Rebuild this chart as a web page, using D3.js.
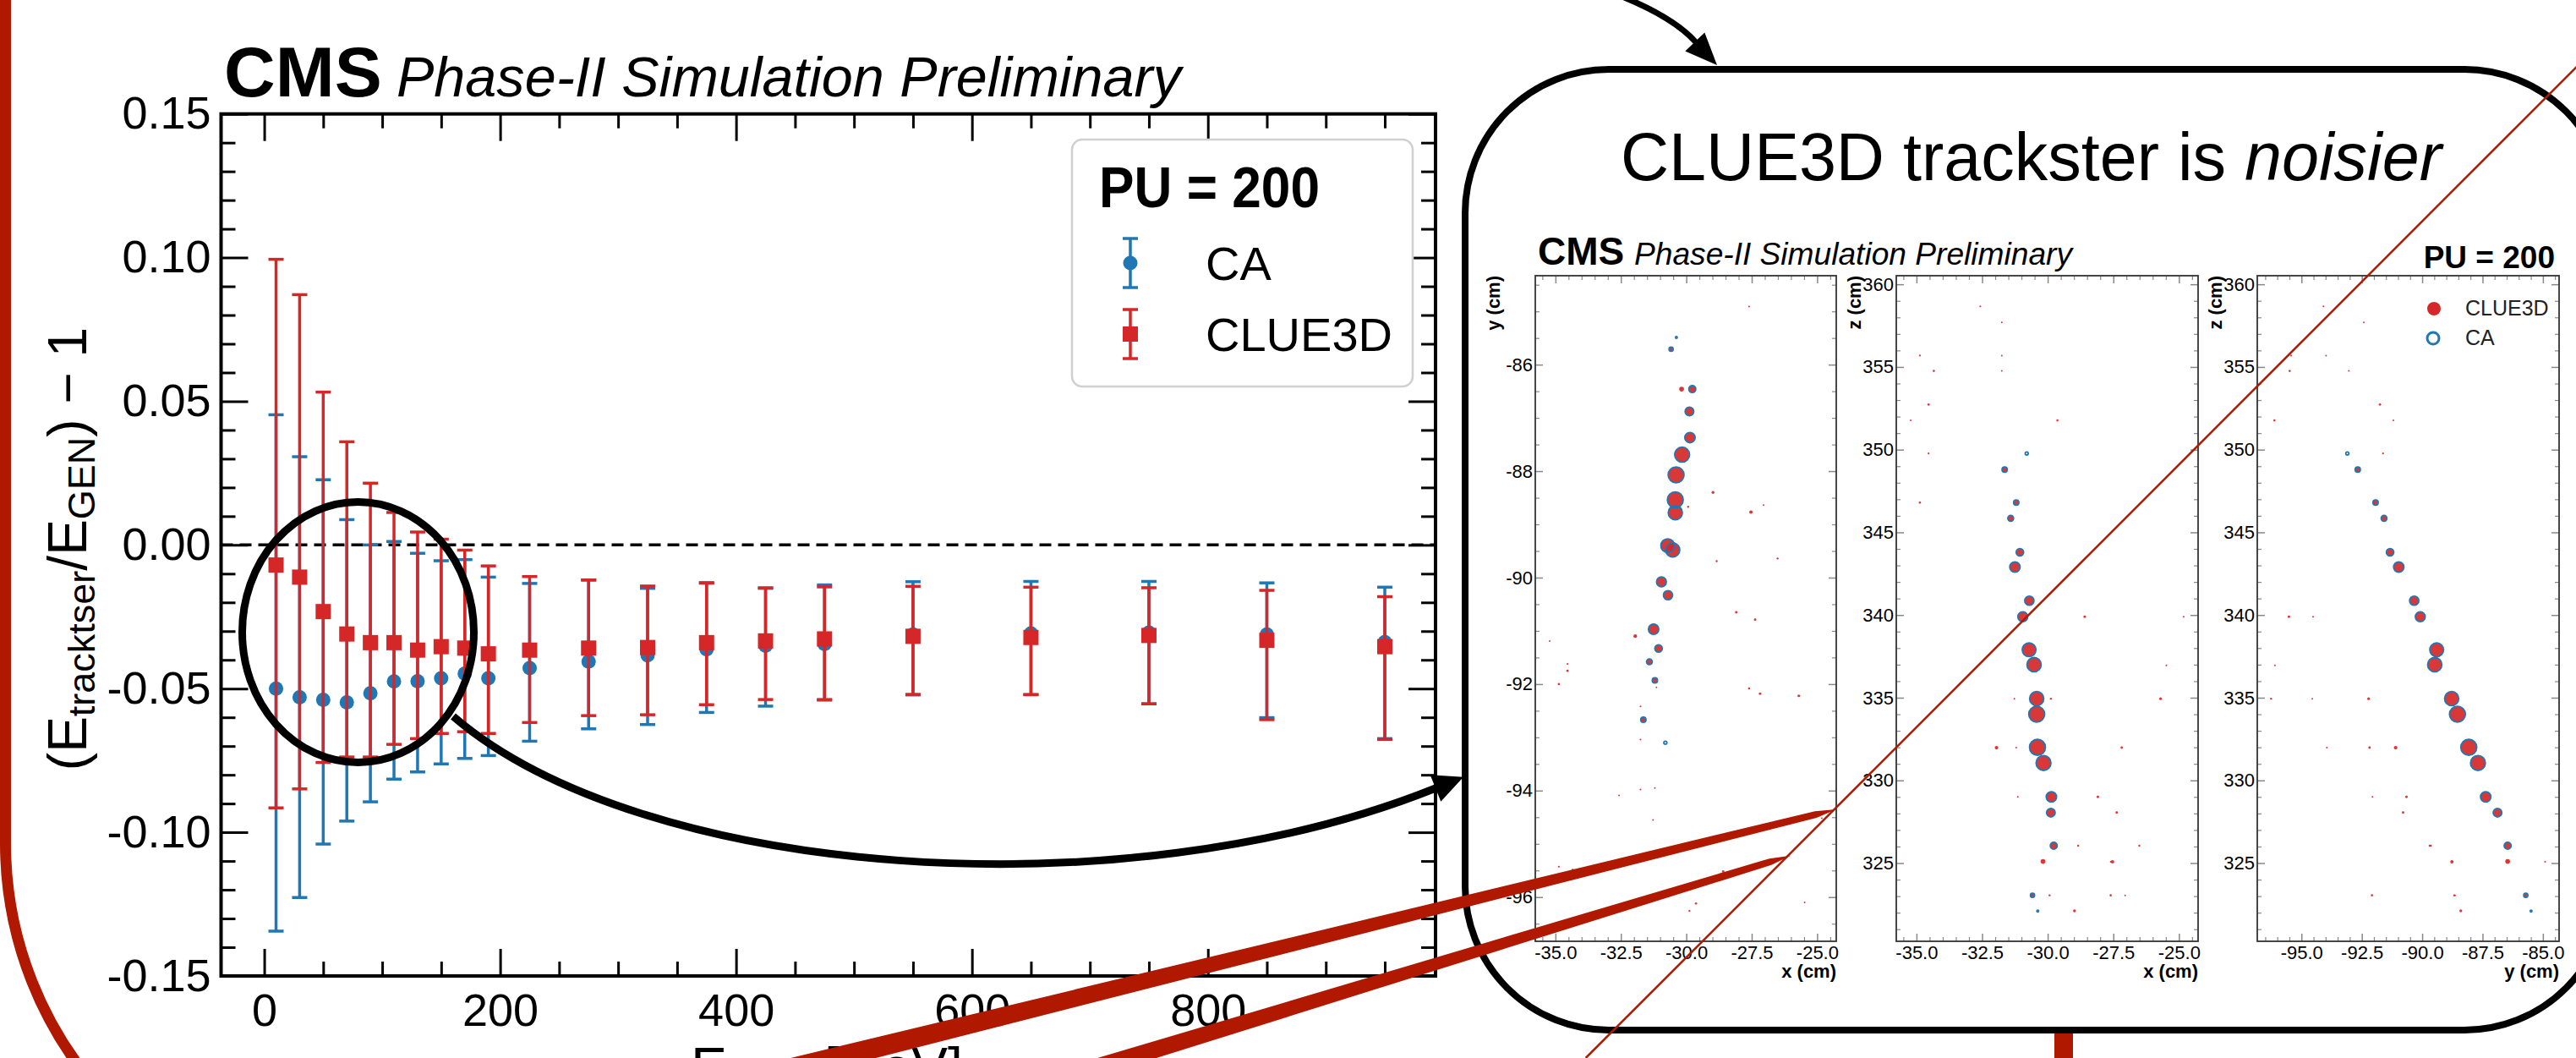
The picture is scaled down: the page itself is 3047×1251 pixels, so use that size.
<!DOCTYPE html>
<meta charset="utf-8">
<style>
    html, body { margin:0; padding:0; overflow:hidden; background:#fff }
    text { font-family: "Liberation Sans", Arial, Helvetica, sans-serif; }
</style>
<svg id="mainsvg" width="3047" height="1251"></svg>
<script src="https://cdn.jsdelivr.net/npm/d3@7"></script>
<script>

/*  -- response vs energy -- */

var energies = [10, 30, 50, 70, 90, 110, 130, 150, 170, 190, 225, 275, 325, 375, 425, 475, 550, 650, 750, 850, 950];

var caMean  = [-0.0500, -0.0530, -0.0539, -0.0548, -0.0516, -0.0475, -0.0474, -0.0464, -0.0448, -0.0464, -0.0429,
               -0.0406, -0.0384, -0.0363, -0.0351, -0.0345, -0.0312, -0.0308, -0.0305, -0.0312, -0.0338];
var caUp    = [ 0.0453,  0.0307,  0.0227,  0.0088,  0.0000,  0.0012, -0.0029, -0.0055, -0.0051, -0.0112, -0.0134,
               -0.0122, -0.0151, -0.0131, -0.0151, -0.0139, -0.0128, -0.0127, -0.0127, -0.0132, -0.0147];
var caDown  = [-0.1344, -0.1227, -0.1041, -0.0961, -0.0894, -0.0815, -0.0790, -0.0762, -0.0743, -0.0733, -0.0683,
               -0.0640, -0.0625, -0.0583, -0.0561, -0.0540, -0.0522, -0.0521, -0.0553, -0.0601, -0.0674];

var clueMean = [-0.0070, -0.0112, -0.0232, -0.0310, -0.0340, -0.0340, -0.0366, -0.0354, -0.0359, -0.0379, -0.0366,
                -0.0359, -0.0357, -0.0340, -0.0334, -0.0327, -0.0318, -0.0322, -0.0315, -0.0332, -0.0354];
var clueUp   = [ 0.0994,  0.0871,  0.0532,  0.0359,  0.0215,  0.0113,  0.0045,  0.0020, -0.0018, -0.0073, -0.0110,
                -0.0122, -0.0143, -0.0133, -0.0149, -0.0146, -0.0144, -0.0147, -0.0149, -0.0158, -0.0180];
var clueDown = [-0.0915, -0.0849, -0.0757, -0.0738, -0.0738, -0.0694, -0.0674, -0.0656, -0.0650, -0.0656, -0.0618,
                -0.0594, -0.0591, -0.0556, -0.0538, -0.0538, -0.0520, -0.0521, -0.0553, -0.0608, -0.0677];

var xTicks = [0, 200, 400, 600, 800];
var yTicks = [-0.15, -0.10, -0.05, 0.00, 0.05, 0.10, 0.15];

/*  -- trackster hits (cm), energy in arbitrary units, and which trackster owns them -- */

var hitX = [-30.80, -31.64, -31.20, -31.41, -31.06, -31.25, -30.70, -30.95, -30.71, -30.52, -30.42, -30.42, -30.39, -30.16,
            -29.86, -29.88, -29.77, -30.18, -30.58, -30.38,
            -32.57, -31.75, -34.87, -31.75, -34.34, -31.75, -34.54, -35.22, -29.63, -34.54, -34.87, -28.59, -24.82,
            -25.48, -31.27, -29.88, -25.70, -31.95, -31.20, -27.18, -31.14, -28.09, -27.37, -28.84, -26.51, -27.53,
            -27.60, -29.93, -27.60, -27.05, -28.98];
var hitY = [-93.10, -92.67, -91.93, -91.58, -91.33, -90.97, -90.33, -90.08, -89.40, -89.48, -88.78, -88.54, -88.07, -87.69,
            -87.37, -86.88, -86.46, -86.46, -85.71, -85.49,
            -94.09, -92.42, -95.43, -93.98, -95.49, -93.04, -91.75, -91.19, -96.12, -91.62, -92.00, -95.52, -94.52,
            -96.10, -94.55, -96.26, -92.22, -91.10, -93.95, -92.18, -92.06, -90.65, -90.79, -89.69, -89.64, -88.77,
            -84.91, -88.67, -92.08, -88.64, -88.40];
var hitZ = [349.77, 348.80, 346.80, 345.85, 343.80, 342.90, 340.87, 339.90, 337.90, 337.00, 334.95, 334.00, 332.00, 331.05,
            329.00, 328.05, 326.05, 325.10, 323.05, 322.10,
            358.66, 357.70, 355.69, 355.69, 354.76, 354.76, 352.73, 351.77, 351.77, 349.77, 346.80, 339.90, 339.90,
            336.95, 334.94, 334.94, 334.94, 331.98, 331.98, 331.98, 329.00, 329.00, 328.06, 326.05, 326.05, 325.08,
            325.08, 323.05, 323.05, 323.05, 322.11];
var hitE = [0.73, 1.6, 1.6, 1.85, 2.8, 4.9, 4.0, 4.5, 8.1, 8.6, 8.6, 10.6, 10.6, 9.4,
            4.9, 3.6, 2.5, 0.8, 1.1, 0.4,
            0.1, 0.1, 0.12, 0.1, 0.17, 0.1, 0.2, 0.1, 0.17, 0.12, 0.17, 0.22, 0.1,
            0.1, 0.1, 0.14, 0.26, 0.45, 0.1, 0.22, 0.1, 0.22, 0.22, 0.14, 0.14, 0.4,
            0.1, 0.14, 0.17, 0.1, 0.29];
var hitOwner = ["ca", "both", "both", "both", "both", "both", "both", "both", "both", "both", "both", "both", "both", "both",
                "both", "both", "both", "clue", "both", "ca"];
while (hitOwner.length < hitX.length) hitOwner.push("clue");


/*  --  */

var svg = d3.select("#mainsvg");
svg.append("rect").attr("width", 3047).attr("height", 1251).attr("fill", "#fff");

var FONT = "Liberation Sans, Arial, Helvetica, sans-serif";
var blue = "#1f77b4", red = "#d62728", slideRed = "#b01800";

function noLabels() { return ""; }

function cleanAxis(g, size, w, col) {
    g.attr("font-family", FONT).attr("font-size", size);
    g.select(".domain").remove();
    g.selectAll("line").attr("stroke", col).attr("stroke-width", w);
    g.selectAll("text").attr("fill", "#000");
}

/*  -- left: response plot -- */

var px0 = 261.5, px1 = 1698, py0 = 134.7, py1 = 1154;
var x = d3.scaleLinear().domain([-36.6, 993]).range([px0, px1]);
var y = d3.scaleLinear().domain([-0.15, 0.15]).range([py1, py0]);

var xMinor = d3.range(50, 1000, 50).filter(function(v) { return v % 200 != 0; });
var yMinor = d3.range(-14, 15).filter(function(k) { return k % 5 != 0; }).map(function(k) { return k / 100; });

var plot = svg.append("g");

plot.append("g").attr("transform", "translate(0," + py1 + ")")
    .call(d3.axisBottom(x).tickValues(xTicks).tickSizeInner(-32).tickSizeOuter(0).tickPadding(21).tickFormat(d3.format("d")))
    .call(cleanAxis, 54, 3, "#000");
plot.append("g").attr("transform", "translate(0," + py1 + ")")
    .call(d3.axisBottom(x).tickValues(xMinor).tickSizeInner(-17).tickSizeOuter(0).tickFormat(noLabels))
    .call(cleanAxis, 54, 3, "#000");
plot.append("g").attr("transform", "translate(0," + py0 + ")")
    .call(d3.axisTop(x).tickValues(xTicks).tickSizeInner(-32).tickSizeOuter(0).tickFormat(noLabels))
    .call(cleanAxis, 54, 3, "#000");
plot.append("g").attr("transform", "translate(0," + py0 + ")")
    .call(d3.axisTop(x).tickValues(xMinor).tickSizeInner(-17).tickSizeOuter(0).tickFormat(noLabels))
    .call(cleanAxis, 54, 3, "#000");

plot.append("g").attr("transform", "translate(" + px0 + ",0)")
    .call(d3.axisLeft(y).tickValues(yTicks).tickSizeInner(-32).tickSizeOuter(0).tickPadding(12)
            .tickFormat(function(d) { return d.toFixed(2); }))
    .call(cleanAxis, 54, 3, "#000");
plot.append("g").attr("transform", "translate(" + px0 + ",0)")
    .call(d3.axisLeft(y).tickValues(yMinor).tickSizeInner(-17).tickSizeOuter(0).tickFormat(noLabels))
    .call(cleanAxis, 54, 3, "#000");
plot.append("g").attr("transform", "translate(" + px1 + ",0)")
    .call(d3.axisRight(y).tickValues(yTicks).tickSizeInner(-32).tickSizeOuter(0).tickFormat(noLabels))
    .call(cleanAxis, 54, 3, "#000");
plot.append("g").attr("transform", "translate(" + px1 + ",0)")
    .call(d3.axisRight(y).tickValues(yMinor).tickSizeInner(-17).tickSizeOuter(0).tickFormat(noLabels))
    .call(cleanAxis, 54, 3, "#000");

plot.append("rect")
    .attr("x", px0).attr("y", py0).attr("width", px1 - px0).attr("height", py1 - py0)
    .attr("fill", "none").attr("stroke", "#000").attr("stroke-width", 4);

plot.append("line")
    .attr("x1", px0).attr("x2", px1).attr("y1", y(0)).attr("y2", y(0))
    .attr("stroke", "#000").attr("stroke-width", 3.5).attr("stroke-dasharray", "14,8");

function drawSeries(mean, up, down, col, shape) {
    var g = plot.append("g");
    var pt = g.selectAll("g").data(energies).enter().append("g");
    pt.append("line")
        .attr("x1", function(d) { return x(d); }).attr("x2", function(d) { return x(d); })
        .attr("y1", function(d, i) { return y(up[i]); }).attr("y2", function(d, i) { return y(down[i]); })
        .attr("stroke", col).attr("stroke-width", 3.5);
    [up, down].forEach(function(arr) {
        pt.append("line")
            .attr("x1", function(d) { return x(d) - 9; }).attr("x2", function(d) { return x(d) + 9; })
            .attr("y1", function(d, i) { return y(arr[i]); }).attr("y2", function(d, i) { return y(arr[i]); })
            .attr("stroke", col).attr("stroke-width", 3.5);
    });
    if (shape == "circle") {
        pt.append("circle")
            .attr("cx", function(d) { return x(d); }).attr("cy", function(d, i) { return y(mean[i]); })
            .attr("r", 8.5).attr("fill", col);
    } else {
        pt.append("rect")
            .attr("x", function(d) { return x(d) - 9; }).attr("y", function(d, i) { return y(mean[i]) - 9; })
            .attr("width", 18).attr("height", 18).attr("fill", col);
    }
}
drawSeries(caMean, caUp, caDown, blue, "circle");
drawSeries(clueMean, clueUp, clueDown, red, "square");

// legend
var leg = plot.append("g");
leg.append("rect").attr("x", 1268).attr("y", 165).attr("width", 403).attr("height", 292).attr("rx", 12)
    .attr("fill", "#fff").attr("stroke", "#d0d0d0").attr("stroke-width", 2.5);
leg.append("text").attr("x", 1300).attr("y", 245).attr("font-size", 68).attr("font-weight", "bold")
    .attr("textLength", 261).attr("lengthAdjust", "spacingAndGlyphs").text("PU = 200");
[{label: "CA", col: blue, shape: "circle", cy: 311}, {label: "CLUE3D", col: red, shape: "square", cy: 395}]
.forEach(function(item) {
    var cx = 1337;
    leg.append("line").attr("x1", cx).attr("x2", cx).attr("y1", item.cy - 29).attr("y2", item.cy + 29)
        .attr("stroke", item.col).attr("stroke-width", 3.5);
    [-29, 29].forEach(function(o) {
        leg.append("line").attr("x1", cx - 9).attr("x2", cx + 9).attr("y1", item.cy + o).attr("y2", item.cy + o)
            .attr("stroke", item.col).attr("stroke-width", 3.5);
    });
    if (item.shape == "circle") leg.append("circle").attr("cx", cx).attr("cy", item.cy).attr("r", 8.5).attr("fill", item.col);
    else leg.append("rect").attr("x", cx - 9).attr("y", item.cy - 9).attr("width", 18).attr("height", 18).attr("fill", item.col);
    leg.append("text").attr("x", 1426).attr("y", item.cy + 20).attr("font-size", 56).text(item.label);
});

// title and axis labels
var title = svg.append("text").attr("x", 265).attr("y", 114);
title.append("tspan").attr("font-size", 84).attr("font-weight", "bold").text("CMS");
svg.append("text").attr("x", 469).attr("y", 114).attr("font-size", 66).attr("font-style", "italic")
    .attr("textLength", 928).attr("lengthAdjust", "spacingAndGlyphs").text("Phase-II Simulation Preliminary");

var ylab = svg.append("text").attr("transform", "translate(102,649) rotate(-90)")
    .attr("text-anchor", "middle").attr("font-size", 64);
ylab.append("tspan").text("(E");
ylab.append("tspan").attr("font-size", 45).attr("dy", 10).text("tracktser");
ylab.append("tspan").attr("dy", -10).text("/E");
ylab.append("tspan").attr("font-size", 45).attr("dy", 10).text("GEN");
ylab.append("tspan").attr("dy", -10).text(") \u2212 1");

var xlab = svg.append("text").attr("x", 978).attr("y", 1284).attr("text-anchor", "middle").attr("font-size", 64);
xlab.append("tspan").text("E");
xlab.append("tspan").attr("font-size", 45).attr("dy", 10).text("GEN");
xlab.append("tspan").attr("dy", -10).text(" [GeV]");

// annotation ellipse and arrow
svg.append("ellipse").attr("cx", 423.5).attr("cy", 747.5).attr("rx", 137).attr("ry", 154)
    .attr("fill", "none").attr("stroke", "#000").attr("stroke-width", 9);
svg.append("path").attr("d", "M536,847 C760,1040 1330,1080 1698,932")
    .attr("fill", "none").attr("stroke", "#000").attr("stroke-width", 9);
svg.append("path").attr("d", "M1731,918.7 L1704.3,947.8 L1691.7,916.2 Z").attr("fill", "#000");


/*  -- right: the event display -- */

var box = svg.append("g");

box.append("rect").attr("x", 2430).attr("y", 1215).attr("width", 22).attr("height", 40).attr("fill", slideRed);
box.append("rect").attr("x", 1733).attr("y", 82).attr("width", 1352).attr("height", 1136).attr("rx", 170)
    .attr("fill", "#fff").attr("stroke", "#000").attr("stroke-width", 8);

svg.append("path").attr("d", "M1890,-15 Q1975,15 2006,50").attr("fill", "none").attr("stroke", "#000").attr("stroke-width", 7);
svg.append("path").attr("d", "M2031,77 L1993.3,60.6 L2016.3,38.6 Z").attr("fill", "#000");

var head = box.append("text").attr("x", 1917).attr("y", 213).attr("font-size", 80)
    .attr("font-family", "Lato, 'Open Sans', sans-serif").attr("font-weight", 300)
    .attr("textLength", 971).attr("lengthAdjust", "spacingAndGlyphs");
head.append("tspan").text("CLUE3D trackster is ");
head.append("tspan").attr("font-style", "italic").text("noisier");

box.append("text").attr("x", 1819).attr("y", 313).attr("font-size", 46).attr("font-weight", "bold").text("CMS");
box.append("text").attr("x", 1933).attr("y", 313).attr("font-size", 37).attr("font-style", "italic")
    .attr("textLength", 518).attr("lengthAdjust", "spacingAndGlyphs").text("Phase-II Simulation Preliminary");
box.append("text").attr("x", 3022).attr("y", 317).attr("font-size", 37).attr("font-weight", "bold")
    .attr("text-anchor", "end").text("PU = 200");

var xDom = [-35.77, -24.27], yDom = [-96.83, -84.33], zDom = [320.27, 360.52];
var pTop = 326, pBot = 1113;

function ticksBetween(dom, step, major) {
    return d3.range(Math.ceil(dom[0] / step), Math.floor(dom[1] / step) + 1)
        .map(function(k) { return +(k * step).toFixed(3); })
        .filter(function(v) { return major.indexOf(v) < 0; });
}

var panels = [
    {x0: 1816, x1: 2172, h: hitX, v: hitY, hDom: xDom, vDom: yDom,
     hMajor: [-35, -32.5, -30, -27.5, -25], hStep: 0.5, vMajor: [-96, -94, -92, -90, -88, -86], vStep: 0.5,
     hName: "x (cm)", vName: "y (cm)"},
    {x0: 2243, x1: 2600, h: hitX, v: hitZ, hDom: xDom, vDom: zDom,
     hMajor: [-35, -32.5, -30, -27.5, -25], hStep: 0.5, vMajor: [325, 330, 335, 340, 345, 350, 355, 360], vStep: 1,
     hName: "x (cm)", vName: "z (cm)"},
    {x0: 2670, x1: 3027, h: hitY, v: hitZ, hDom: yDom, vDom: zDom,
     hMajor: [-95, -92.5, -90, -87.5, -85], hStep: 0.5, vMajor: [325, 330, 335, 340, 345, 350, 355, 360], vStep: 1,
     hName: "y (cm)", vName: "z (cm)"}
];

var rScale = d3.scaleSqrt().domain([0, 10]).range([0, 10]);

panels.forEach(function(p) {
    var hs = d3.scaleLinear().domain(p.hDom).range([p.x0, p.x1]);
    var vs = d3.scaleLinear().domain(p.vDom).range([pBot, pTop]);
    var g = box.append("g");
    var hMinor = ticksBetween(p.hDom, p.hStep, p.hMajor);
    var vMinor = ticksBetween(p.vDom, p.vStep, p.vMajor);

    g.append("g").attr("transform", "translate(0," + pBot + ")")
        .call(d3.axisBottom(hs).tickValues(p.hMajor).tickSizeInner(-9).tickSizeOuter(0).tickPadding(5)
                .tickFormat(function(d) { return d.toFixed(1); }))
        .call(cleanAxis, 22, 1.5, "#888");
    g.append("g").attr("transform", "translate(0," + pBot + ")")
        .call(d3.axisBottom(hs).tickValues(hMinor).tickSizeInner(-5).tickSizeOuter(0).tickFormat(noLabels))
        .call(cleanAxis, 22, 1.2, "#888");
    g.append("g").attr("transform", "translate(0," + pTop + ")")
        .call(d3.axisTop(hs).tickValues(p.hMajor).tickSizeInner(-9).tickSizeOuter(0).tickFormat(noLabels))
        .call(cleanAxis, 22, 1.5, "#888");
    g.append("g").attr("transform", "translate(0," + pTop + ")")
        .call(d3.axisTop(hs).tickValues(hMinor).tickSizeInner(-5).tickSizeOuter(0).tickFormat(noLabels))
        .call(cleanAxis, 22, 1.2, "#888");
    g.append("g").attr("transform", "translate(" + p.x0 + ",0)")
        .call(d3.axisLeft(vs).tickValues(p.vMajor).tickSizeInner(-9).tickSizeOuter(0).tickPadding(3)
                .tickFormat(function(d) { return String(d); }))
        .call(cleanAxis, 22, 1.5, "#888");
    g.append("g").attr("transform", "translate(" + p.x0 + ",0)")
        .call(d3.axisLeft(vs).tickValues(vMinor).tickSizeInner(-5).tickSizeOuter(0).tickFormat(noLabels))
        .call(cleanAxis, 22, 1.2, "#888");
    g.append("g").attr("transform", "translate(" + p.x1 + ",0)")
        .call(d3.axisRight(vs).tickValues(p.vMajor).tickSizeInner(-9).tickSizeOuter(0).tickFormat(noLabels))
        .call(cleanAxis, 22, 1.5, "#888");
    g.append("g").attr("transform", "translate(" + p.x1 + ",0)")
        .call(d3.axisRight(vs).tickValues(vMinor).tickSizeInner(-5).tickSizeOuter(0).tickFormat(noLabels))
        .call(cleanAxis, 22, 1.2, "#888");

    g.append("rect").attr("x", p.x0).attr("y", pTop).attr("width", p.x1 - p.x0).attr("height", pBot - pTop)
        .attr("fill", "none").attr("stroke", "#333").attr("stroke-width", 1.8);

    g.append("text").attr("x", p.x1).attr("y", pBot + 43).attr("text-anchor", "end")
        .attr("font-size", 22).attr("font-weight", "bold").text(p.hName);
    g.append("text").attr("transform", "translate(" + (p.x0 - 42) + "," + pTop + ") rotate(-90)")
        .attr("text-anchor", "end").attr("font-size", 22).attr("font-weight", "bold").text(p.vName);

    var idx = d3.range(hitX.length);
    g.selectAll("circle.clue").data(idx.filter(function(i) { return hitOwner[i] != "ca"; }))
        .enter().append("circle").attr("class", "clue")
        .attr("cx", function(i) { return hs(p.h[i]); }).attr("cy", function(i) { return vs(p.v[i]); })
        .attr("r", function(i) { return hitOwner[i] == "both" ? rScale(hitE[i]) - 1 : rScale(hitE[i]); })
        .attr("fill", red).attr("fill-opacity", 0.92);
    g.selectAll("circle.ca").data(idx.filter(function(i) { return hitOwner[i] != "clue"; }))
        .enter().append("circle").attr("class", "ca")
        .attr("cx", function(i) { return hs(p.h[i]); }).attr("cy", function(i) { return vs(p.v[i]); })
        .attr("r", function(i) { return rScale(hitE[i]) - 0.9; })
        .attr("fill", "none").attr("stroke", blue).attr("stroke-width", 1.8);
});

// event display legend
var eleg = box.append("g");
eleg.append("circle").attr("cx", 2879).attr("cy", 365).attr("r", 8).attr("fill", red);
eleg.append("circle").attr("cx", 2878).attr("cy", 400).attr("r", 7).attr("fill", "none").attr("stroke", blue).attr("stroke-width", 3);
eleg.append("text").attr("x", 2916).attr("y", 373).attr("font-size", 25).attr("fill", "#222").text("CLUE3D");
eleg.append("text").attr("x", 2916).attr("y", 408).attr("font-size", 25).attr("fill", "#222").text("CA");


/*  -- slide decorations on top -- */

svg.append("path").attr("d", "M6.5,-20 L6.5,997 A443,443 0 0 0 449.5,1440")
    .attr("fill", "none").attr("stroke", slideRed).attr("stroke-width", 13);

svg.append("line").attr("x1", 3126.7).attr("y1", 0).attr("x2", 1875.7).attr("y2", 1251)
    .attr("stroke", slideRed).attr("stroke-width", 2.5);

function wedge(sx, tipX, tipY, slope, w0, w1, endGap) {
    var len = Math.sqrt(1 + slope * slope);
    var ux = 1 / len, uy = slope / len, nx = -uy, ny = ux;
    var sy = tipY + (sx - tipX) * slope;
    var ex = tipX - endGap * ux, ey = tipY - endGap * uy;
    var pts = [[sx + nx * w0 / 2, sy + ny * w0 / 2], [ex + nx * w1 / 2, ey + ny * w1 / 2], [tipX, tipY],
               [ex - nx * w1 / 2, ey - ny * w1 / 2], [sx - nx * w0 / 2, sy - ny * w0 / 2]];
    svg.append("path").attr("d", "M" + pts.join("L") + "Z").attr("fill", slideRed);
}
wedge(860, 2172, 957, -0.2481, 26, 8, 25);
wedge(1230, 2118, 1011.7, -0.3052, 22, 8, 25);

</script>
